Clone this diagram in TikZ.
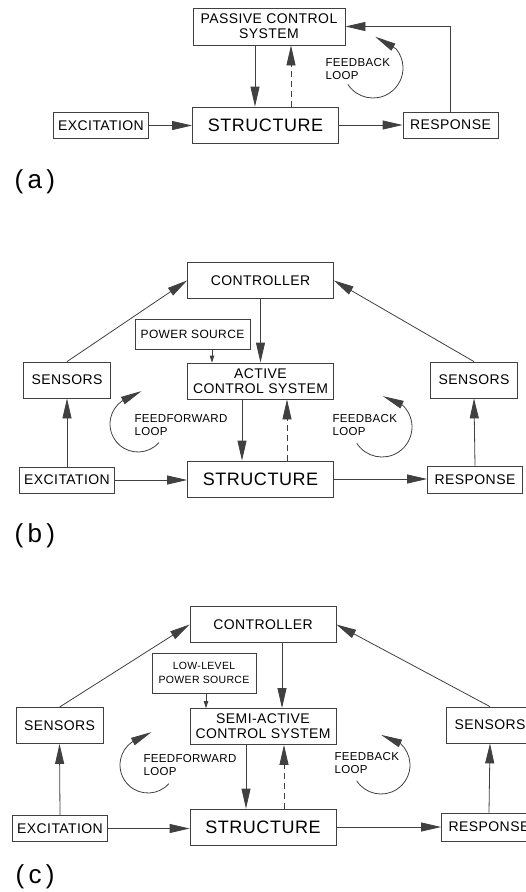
\documentclass[tikz,border=0pt]{standalone}
\usepackage{fontspec}
\setmainfont{Liberation Sans}[LetterSpace=3]
\usetikzlibrary{arrows.meta}

\begin{document}
\begin{tikzpicture}[
    x=1pt, y=-1pt,
    box/.style={draw=black!75, line width=0.8pt, inner sep=0pt, align=center, font=\fontsize{14}{15}\selectfont},
    wide/.style={box, minimum width=146pt, minimum height=36pt},
    side/.style={box, minimum width=95pt, minimum height=26pt},
    sens/.style={box, minimum width=87pt, minimum height=36pt},
    big/.style={font=\fontsize{18}{20}\selectfont},
    arr/.style={-{Triangle[length=20pt,width=9pt]}, draw=black!75, line width=0.8pt},
    dasharr/.style={arr, dash pattern=on 6pt off 4pt},
    tinyarr/.style={-{Triangle[length=7pt,width=4.5pt]}, draw=black!75, line width=0.8pt},
    looparc/.style={-{Triangle[length=21pt,width=8pt]}, draw=black!75, line width=0.8pt},
    looptxt/.style={anchor=west, align=left, font=\fontsize{11.5}{13}\selectfont},
    tag/.style={anchor=west, font=\fontsize{26}{28}\selectfont}
]
    \useasboundingbox (0,0) rectangle (526,892);
    \clip (0,0) rectangle (526,892);

    % (a) passive
    \node[box, minimum width=152pt, minimum height=37pt] at (269,26.5) (pcsa) {PASSIVE CONTROL\\SYSTEM};
    \node[wide, big] at (265.5,125) (stra) {STRUCTURE};
    \node[side] at (101,125.5) (exca) {EXCITATION};
    \node[side] at (450.5,125) (resa) {RESPONSE};

    \draw[arr] ([xshift=-14pt]pcsa.south) -- ([xshift=-14pt]pcsa.south |- stra.north);
    \draw[dasharr] ([xshift=25.5pt]stra.north) -- ([xshift=25.5pt]stra.north |- pcsa.south);
    \draw[arr] (exca.east) -- (exca.east -| stra.west);
    \draw[arr] (stra.east) -- (stra.east -| resa.west);
    \draw[arr] (resa.north) |- (pcsa.east);

    \coordinate (fba) at (373,68);
    \draw[looparc] (fba) ++(-147:30pt) arc[start angle=-147, end angle=40, radius=30pt] -- ++(150:24pt);
    \node[looptxt] at (322,69) (fbta) {FEEDBACK\\LOOP};
    \node[tag] at (11,182) (taga) {(\,a\,)};

    % (b) active
    \node[wide] at (260.5,280.5) (ctrlb) {CONTROLLER};
    \node[box, minimum width=115pt, minimum height=30pt, font=\fontsize{12}{14}\selectfont] at (192.5,334) (pwrb) {POWER SOURCE};
    \node[wide] at (260.5,381) (actb) {ACTIVE\\CONTROL SYSTEM};
    \node[sens] at (67,380) (senlb) {SENSORS};
    \node[sens] at (474,380) (senrb) {SENSORS};
    \node[side] at (67,480) (excb) {EXCITATION};
    \node[wide, big] at (260.5,479) (strb) {STRUCTURE};
    \node[side, minimum height=27pt] at (475,479.5) (resb) {RESPONSE};

    \draw[arr] (excb.north) -- (senlb.south);
    \draw[arr] (senlb.north) -- (ctrlb.west);
    \draw[arr] (senrb.north) -- (ctrlb.east);
    \draw[arr] (ctrlb.south) -- (actb.north);
    \draw[tinyarr] ([xshift=19.5pt]pwrb.south) -- ([xshift=19.5pt]pwrb.south |- actb.north);
    \draw[arr] ([xshift=-18.5pt]actb.south) -- ([xshift=-18.5pt]actb.south |- strb.north);
    \draw[dasharr] ([xshift=26.5pt]strb.north) -- ([xshift=26.5pt]strb.north |- actb.south);
    \draw[arr] (excb.east) -- (excb.east -| strb.west);
    \draw[arr] (strb.east) -- (strb.east -| resb.west);
    \draw[arr] (resb.north) -- (senrb.south);

    \coordinate (ffb) at (138,424);
    \coordinate (fbb) at (382,427);
    \draw[looparc] (ffb) ++(-42:28pt) arc[start angle=-42, end angle=-235, radius=28pt] -- ++(27:22pt);
    \draw[looparc] (fbb) ++(-147:30pt) arc[start angle=-147, end angle=48, radius=30pt] -- ++(156:21pt);
    \node[looptxt] at (131,425) (fftb) {FEEDFORWARD\\LOOP};
    \node[looptxt] at (329,425) (fbtb) {FEEDBACK\\LOOP};
    \node[tag] at (11,536) (tagb) {(\,b\,)};

    % (c) semi-active
    \node[wide] at (263,624.5) (ctrlc) {CONTROLLER};
    \node[box, minimum width=104pt, minimum height=40pt, font=\fontsize{10.5}{14}\selectfont] at (204,673) (pwrc) {LOW-LEVEL\\POWER SOURCE};
    \node[wide] at (263,726.5) (actc) {SEMI-ACTIVE\\CONTROL SYSTEM};
    \node[sens] at (59.5,725.5) (senlc) {SENSORS};
    \node[sens] at (490,725) (senrc) {SENSORS};
    \node[side] at (60,828.5) (excc) {EXCITATION};
    \node[wide, big] at (263,827) (strc) {STRUCTURE};
    \node[side, minimum height=28pt] at (489,827) (resc) {RESPONSE};

    \draw[arr] (excc.north) -- (senlc.south);
    \draw[arr] (senlc.north) -- (ctrlc.west);
    \draw[arr] (senrc.north) -- (ctrlc.east);
    \draw[arr] ([xshift=19pt]ctrlc.south) -- ([xshift=19pt]ctrlc.south |- actc.north);
    \draw[tinyarr] ([xshift=2pt]pwrc.south) -- ([xshift=2pt]pwrc.south |- actc.north);
    \draw[arr] ([xshift=-17pt]actc.south) -- ([xshift=-17pt]actc.south |- strc.north);
    \draw[dasharr] ([xshift=21pt]strc.north) -- ([xshift=21pt]strc.north |- actc.south);
    \draw[arr] (excc.east) -- (excc.east -| strc.west);
    \draw[arr] (strc.east) -- (strc.east -| resc.west);
    \draw[arr] (resc.north) -- (senrc.south);

    \coordinate (ffc) at (148,765);
    \coordinate (fbc) at (381,765);
    \draw[looparc] (ffc) ++(-42:28pt) arc[start angle=-42, end angle=-235, radius=28pt] -- ++(27:22pt);
    \draw[looparc] (fbc) ++(-147:29pt) arc[start angle=-147, end angle=48, radius=29pt] -- ++(156:21pt);
    \node[looptxt] at (140,765) (fftc) {FEEDFORWARD\\LOOP};
    \node[looptxt] at (331,763) (fbtc) {FEEDBACK\\LOOP};
    \node[tag] at (12,877) (tagc) {(\,c\,)};
\end{tikzpicture}
\end{document}
